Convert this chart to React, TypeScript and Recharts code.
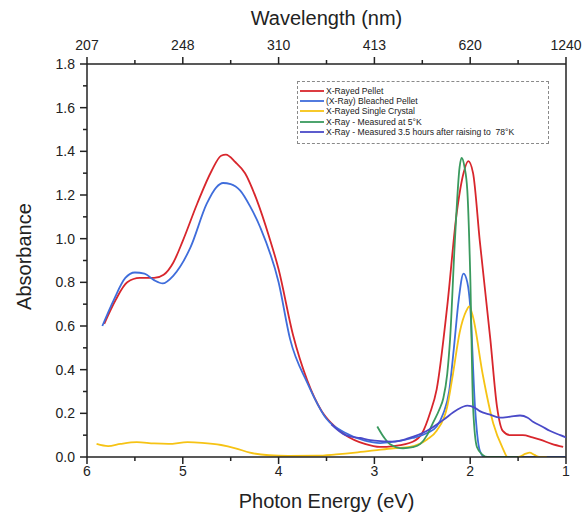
import React from 'react';
import { LineChart, Line, XAxis, YAxis, Legend, ReferenceLine, Label } from 'recharts';

// Photon energy (eV) vs absorbance
const xTicks = [6, 5.5, 5, 4.5, 4, 3.5, 3, 2.5, 2, 1.5, 1];
const majorEnergies = [6, 5, 4, 3, 2, 1];
const wavelengthLabels = ['207', '248', '310', '413', '620', '1240'];
const yTicks = [0, 0.1, 0.2, 0.3, 0.4, 0.5, 0.6, 0.7, 0.8, 0.9, 1.0, 1.1, 1.2, 1.3, 1.4, 1.5, 1.6, 1.7, 1.8];

const seriesNames = [
  'X-Rayed Pellet',
  '(X-Ray) Bleached Pellet',
  'X-Rayed Single Crystal',
  'X-Ray - Measured at 5°K',
  'X-Ray - Measured 3.5 hours after raising to  78°K',
];
const seriesColors = ['#d8262c', '#3f6ddb', '#f6c314', '#3a9a5e', '#4a4ac8'];

const pelletE = [5.82, 5.7, 5.58, 5.45, 5.3, 5.2, 5.1, 5.0, 4.85, 4.7, 4.6, 4.55, 4.45, 4.35, 4.23, 4.1, 4.0, 3.85, 3.7, 3.55, 3.45, 3.3, 3.1, 2.94, 2.8, 2.6, 2.5, 2.42, 2.35, 2.24, 2.14, 2.07, 2.02, 1.97, 1.9, 1.79, 1.72, 1.66, 1.58, 1.45, 1.35, 1.27, 1.15, 1.03];
const pelletA = [0.61, 0.72, 0.8, 0.82, 0.82, 0.835, 0.89, 0.99, 1.16, 1.31, 1.38, 1.385, 1.35, 1.3, 1.18, 1.01, 0.86, 0.56, 0.35, 0.21, 0.155, 0.1, 0.06, 0.046, 0.05, 0.07, 0.11, 0.2, 0.31, 0.69, 1.12, 1.3, 1.355, 1.3, 0.99, 0.54, 0.23, 0.12, 0.1, 0.1, 0.09, 0.08, 0.06, 0.046];

const bleachedE = [5.84, 5.72, 5.6, 5.5, 5.4, 5.3, 5.21, 5.1, 4.92, 4.75, 4.65, 4.58, 4.5, 4.4, 4.3, 4.19, 4.0, 3.88, 3.7, 3.5, 3.3, 3.1, 2.94, 2.8, 2.6, 2.45, 2.35, 2.28, 2.22, 2.17, 2.12, 2.07, 2.03, 2.0, 1.95, 1.9, 1.85, 1.5, 1.0];
const bleachedA = [0.6, 0.72, 0.82, 0.845, 0.84, 0.81, 0.795, 0.83, 0.96, 1.16, 1.235, 1.255, 1.25, 1.22, 1.15, 1.05, 0.8, 0.54, 0.34, 0.175, 0.11, 0.075, 0.064, 0.07, 0.087, 0.11, 0.14, 0.2, 0.3, 0.5, 0.72, 0.84, 0.8, 0.69, 0.23, 0.03, 0.0, 0.0, 0.0];

const crystalE = [5.9, 5.78, 5.65, 5.48, 5.3, 5.15, 4.95, 4.8, 4.6, 4.45, 4.3, 4.1, 3.9, 3.6, 3.4, 3.2, 3.0, 2.8, 2.63, 2.45, 2.35, 2.24, 2.18, 2.11, 2.04, 2.01, 1.97, 1.87, 1.76, 1.66, 1.61, 1.5, 1.42, 1.38, 1.33, 1.28, 1.2];
const crystalA = [0.06, 0.05, 0.06, 0.068, 0.062, 0.06, 0.068, 0.065, 0.055, 0.04, 0.02, 0.008, 0.005, 0.006, 0.012, 0.02, 0.03, 0.04, 0.046, 0.08, 0.12, 0.23, 0.38, 0.57, 0.67, 0.69, 0.64, 0.38, 0.155, 0.04, 0.0, 0.0, 0.015, 0.02, 0.01, 0.0, 0.0];

const cold5E = [2.97, 2.9, 2.84, 2.7, 2.6, 2.52, 2.45, 2.39, 2.32, 2.28, 2.24, 2.21, 2.16, 2.11, 2.09, 2.06, 2.03, 2.0, 1.97, 1.93, 1.87, 1.82, 1.5];
const cold5A = [0.14, 0.09, 0.06, 0.04, 0.045, 0.06, 0.1, 0.155, 0.22, 0.27, 0.38, 0.54, 0.99, 1.33, 1.37, 1.33, 1.22, 0.84, 0.23, 0.046, 0.01, 0.0, 0.0];

const warm78E = [3.45, 3.3, 3.15, 3.0, 2.81, 2.65, 2.45, 2.28, 2.14, 2.03, 1.95, 1.9, 1.8, 1.69, 1.58, 1.48, 1.4, 1.34, 1.25, 1.17, 1.06, 1.0];
const warm78A = [0.15, 0.1, 0.087, 0.075, 0.07, 0.085, 0.12, 0.17, 0.215, 0.235, 0.225, 0.21, 0.195, 0.18, 0.185, 0.19, 0.18, 0.16, 0.14, 0.12, 0.1, 0.09];

const toRows = (es: number[], as: number[]) => es.map((e, i) => ({ e, a: as[i] }));
const seriesData = [
  toRows(pelletE, pelletA),
  toRows(bleachedE, bleachedA),
  toRows(crystalE, crystalA),
  toRows(cold5E, cold5A),
  toRows(warm78E, warm78A),
];

const FONT = '"Liberation Sans", Arial, Helvetica, sans-serif';
const INK = '#222';

const BottomTick = (props: any) => {
  const { x, y, payload } = props;
  const v = payload.value;
  const major = Math.abs(v - Math.round(v)) < 1e-6;
  return (
    <g>
      <line x1={x} x2={x} y1={y} y2={y + (major ? 7 : 4)} stroke={INK} strokeWidth={1.5} />
      {major && (
        <text x={x} y={y + 19} textAnchor="middle" fontSize={14} fill={INK} fontFamily={FONT}>
          {String(v)}
        </text>
      )}
    </g>
  );
};

const TopTick = (props: any) => {
  const { x, y, payload } = props;
  const v = payload.value;
  const idx = majorEnergies.indexOf(v);
  const major = idx >= 0;
  return (
    <g>
      <line x1={x} x2={x} y1={y} y2={y - (major ? 7 : 4)} stroke={INK} strokeWidth={1.5} />
      {major && (
        <text x={x} y={y - 14} textAnchor="middle" fontSize={14} fill={INK} fontFamily={FONT}>
          {wavelengthLabels[idx]}
        </text>
      )}
    </g>
  );
};

const LeftTick = (props: any) => {
  const { x, y, payload } = props;
  const v = payload.value;
  const major = Math.round(v * 10) % 2 === 0;
  return (
    <g>
      <line x1={x} x2={x - (major ? 7 : 4)} y1={y} y2={y} stroke={INK} strokeWidth={1.5} />
      {major && (
        <text x={x - 12} y={y + 5} textAnchor="end" fontSize={14} fill={INK} fontFamily={FONT}>
          {v.toFixed(1)}
        </text>
      )}
    </g>
  );
};

const renderLegend = () => (
  <div
    style={{
      border: '1px dashed #8a8a8a',
      padding: '4px 4px 5px 2px',
      background: '#fff',
      fontFamily: FONT,
      fontSize: 8.6,
      lineHeight: '10.2px',
      color: '#222',
      boxSizing: 'border-box',
      width: 252,
      height: 63,
    }}
  >
    {seriesNames.map((name, i) => (
      <div key={i} style={{ display: 'flex', alignItems: 'center', whiteSpace: 'pre', height: 10.2 }}>
        <svg width={24} height={6} style={{ marginRight: 2, flexShrink: 0 }}>
          <line x1={0} x2={24} y1={3} y2={3} stroke={seriesColors[i]} strokeWidth={1.8} />
        </svg>
        <span>{name}</span>
      </div>
    ))}
  </div>
);

export default function App() {
  return (
    <div style={{ width: 585, height: 523, background: '#fff', position: 'relative' }}>
      <style>{`body{margin:0;}`}</style>
      <LineChart width={585} height={523} margin={{ top: 0, right: 19, bottom: 0, left: 0 }}>
        <XAxis
          xAxisId="bottom"
          type="number"
          dataKey="e"
          domain={[1, 6]}
          reversed
          ticks={xTicks}
          interval={0}
          tickSize={0}
          tickMargin={0}
          tickLine={false}
          tick={<BottomTick />}
          height={66}
          axisLine={{ stroke: INK, strokeWidth: 1.5 }}
          allowDataOverflow
        >
          <Label
            content={(p: any) => {
              const vb = p.viewBox;
              return (
                <text x={vb.x + vb.width / 2} y={vb.y + 51} textAnchor="middle" fontSize={20} fill={INK} fontFamily={FONT}>
                  Photon Energy (eV)
                </text>
              );
            }}
          />
        </XAxis>
        <XAxis
          xAxisId="top"
          orientation="top"
          type="number"
          dataKey="e"
          domain={[1, 6]}
          reversed
          ticks={xTicks}
          interval={0}
          tickSize={0}
          tickMargin={0}
          tickLine={false}
          tick={<TopTick />}
          height={64}
          axisLine={{ stroke: INK, strokeWidth: 1.5 }}
          allowDataOverflow
        >
          <Label
            content={(p: any) => {
              const vb = p.viewBox;
              return (
                <text x={vb.x + vb.width / 2} y={vb.y + 25} textAnchor="middle" fontSize={20} fill={INK} fontFamily={FONT}>
                  Wavelength (nm)
                </text>
              );
            }}
          />
        </XAxis>
        <YAxis
          type="number"
          domain={[0, 1.8]}
          ticks={yTicks}
          interval={0}
          tickSize={0}
          tickMargin={0}
          tickLine={false}
          tick={<LeftTick />}
          width={87}
          axisLine={{ stroke: INK, strokeWidth: 1.5 }}
          allowDataOverflow
        >
          <Label
            content={(p: any) => {
              const vb = p.viewBox;
              const cx = vb.x + 31;
              const cy = vb.y + vb.height / 2 - 4;
              return (
                <text x={cx} y={cy} transform={`rotate(-90 ${cx} ${cy})`} textAnchor="middle" fontSize={20} fill={INK} fontFamily={FONT}>
                  Absorbance
                </text>
              );
            }}
          />
        </YAxis>
        <ReferenceLine xAxisId="bottom" x={1} stroke={INK} strokeWidth={1.5} />
        <Legend
          layout="vertical"
          align="center"
          verticalAlign="middle"
          content={renderLegend}
          wrapperStyle={{ position: 'absolute', left: 297, top: 81, width: 252 }}
        />
        {seriesData.map((d, i) => (
          <Line
            key={i}
            xAxisId="bottom"
            data={d}
            dataKey="a"
            name={seriesNames[i]}
            stroke={seriesColors[i]}
            strokeWidth={1.8}
            dot={false}
            type="monotone"
            isAnimationActive={false}
          />
        ))}
      </LineChart>
    </div>
  );
}
